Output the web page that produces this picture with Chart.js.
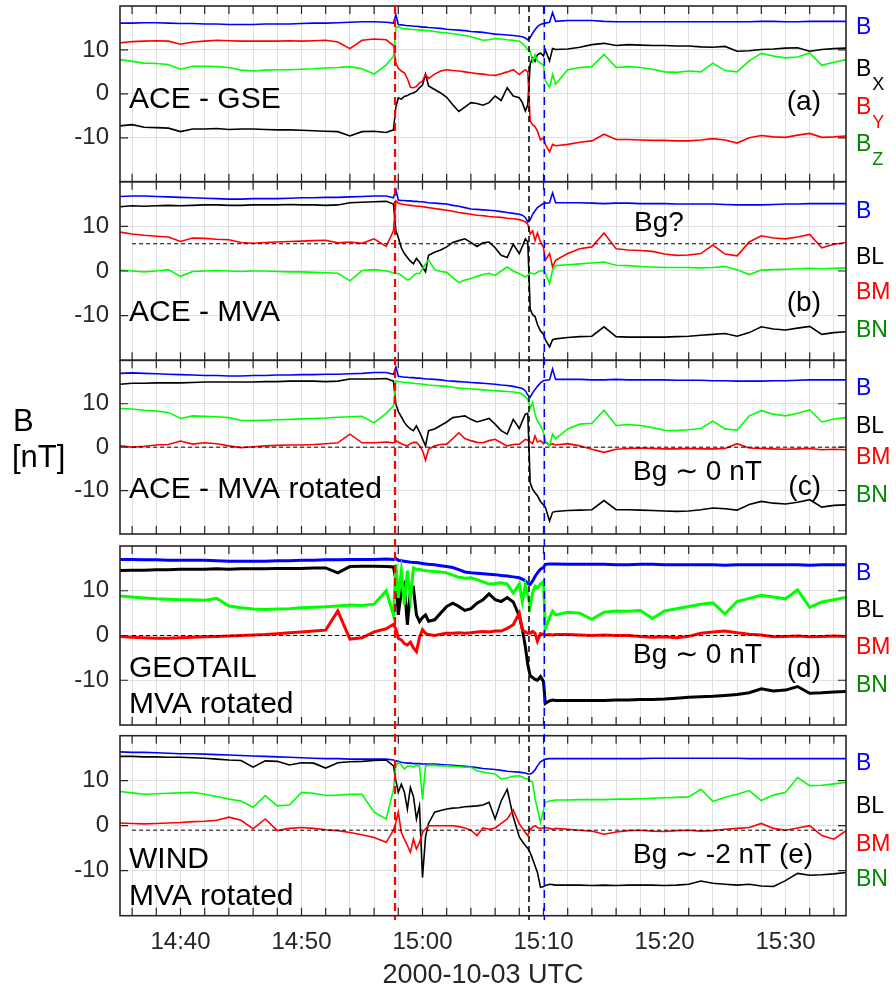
<!DOCTYPE html>
<html>
<head>
<meta charset="utf-8">
<script src="https://cdn.jsdelivr.net/npm/chart.js@4.4.1/dist/chart.umd.min.js"></script>
<style>
  html, body { margin: 0; padding: 0; background: #fff; }
  #wrap { position: relative; width: 896px; height: 994px; overflow: hidden; }
  #wrap canvas { position: absolute; left: 0; top: 0; }
</style>
</head>
<body>
<div id="wrap">
  <canvas id="pa" width="896" height="994"></canvas>
  <canvas id="pb" width="896" height="994"></canvas>
  <canvas id="pc" width="896" height="994"></canvas>
  <canvas id="pd" width="896" height="994"></canvas>
  <canvas id="pe" width="896" height="994"></canvas>
</div>
<script>
// time in minutes after 14:35 UTC (2000-10-03)
const T = [0,1,2,3,4,5,6,7,8,9,10,11,12,13,14,15,16,17,18,19,20,21,22,
  22.6,
  22.8,23,23.25,23.5,23.75,24,24.25,24.5,24.75,25,25.25,25.5,
  26,26.5,27,27.5,28,28.5,29,29.5,30,30.5,31,31.5,32,32.5,33,
  33.25,33.5,33.7,33.9,34.1,34.3,34.5,34.75,35,35.15,35.5,35.75,36,
  37,38,39,40,41,42,43,44,45,46,47,48,49,50,51,52,53,54,55,56,57,58,59,60];

// (a) ACE - GSE
const aB = [16.1,16.1,16.2,16.2,16.1,16.0,16.0,15.9,15.9,15.8,15.8,15.8,15.9,15.9,15.9,16.0,16.1,16.1,16.2,16.3,16.4,16.4,16.3,
  16.1,
  18.0,15.8,15.7,15.6,15.5,15.5,15.4,15.4,15.3,15.2,15.2,15.1,
  15.0,14.9,14.7,14.6,14.5,14.4,14.2,14.1,14.0,13.8,13.6,13.5,13.4,13.3,13.1,
  13.0,12.7,12.3,12.8,13.8,14.6,15.3,15.8,16.0,16.1,16.3,18.5,16.5,
  16.7,16.7,16.7,16.5,16.4,16.4,16.4,16.4,16.4,16.4,16.4,16.4,16.4,16.4,16.4,16.4,16.5,16.5,16.4,16.4,16.5,16.5,16.5,16.5];
const aBx = [-7.3,-7.0,-7.6,-7.7,-7.8,-8.6,-8.0,-8.0,-7.9,-8.1,-8.0,-8.0,-8.1,-8.2,-8.2,-8.3,-8.4,-8.5,-8.6,-9.6,-8.6,-8.5,-8.8,
  -8.2,
  -3.0,-0.9,-1.2,-0.6,-0.4,0.0,0.2,0.6,1.4,2.0,4.5,1.8,
  1.0,0.2,-0.8,-2.5,-4.0,-3.0,-2.0,-2.2,-2.6,-2.0,-0.5,-1.5,1.4,-0.5,-0.9,
  -2.0,-3.9,-2.5,6.8,8.2,7.4,8.9,9.3,8.6,10.0,7.5,10.3,10.1,
  10.2,10.6,11.2,11.5,11.0,11.2,11.1,11.0,11.0,10.9,10.9,10.7,10.6,10.8,9.7,9.8,10.1,10.2,10.4,10.5,9.7,10.1,10.3,10.4];
const aBy = [11.6,11.9,12.0,12.1,12.0,11.3,11.8,12.0,12.2,12.1,12.0,12.0,12.0,12.0,12.1,12.0,12.1,12.2,11.8,10.3,12.2,12.5,12.3,
  11.0,
  7.0,5.8,5.2,4.8,3.5,1.5,1.4,1.7,2.5,2.9,4.4,3.5,
  4.5,5.2,5.5,5.3,5.2,5.0,4.8,4.6,4.5,4.3,4.2,4.6,5.0,5.5,4.4,
  5.0,5.5,5.0,-6.2,-7.0,-7.5,-8.5,-10.5,-10.0,-11.5,-13.2,-11.5,-11.8,
  -11.5,-11.0,-10.7,-9.2,-10.4,-10.4,-10.5,-10.6,-10.6,-10.7,-10.7,-10.5,-10.2,-10.5,-11.2,-10.0,-9.5,-9.8,-9.9,-9.4,-9.0,-9.9,-9.8,-9.6];
const aBz = [7.8,7.4,7.0,6.9,6.7,5.6,6.3,6.3,6.2,6.0,5.4,5.2,5.4,5.5,5.5,5.6,5.7,5.9,6.0,6.2,5.7,4.5,6.6,
  8.5,
  15.0,15.3,15.0,14.8,14.8,14.7,14.6,14.6,14.5,14.5,14.4,14.4,
  14.2,14.0,13.9,13.7,13.5,13.3,13.0,12.6,12.2,12.3,12.6,12.5,12.3,12.2,12.0,
  11.5,10.8,10.0,9.7,7.4,8.9,7.5,7.0,6.5,3.0,1.5,4.4,2.2,
  5.5,6.0,6.2,9.0,6.0,6.2,6.0,5.6,5.0,4.9,5.2,5.0,7.0,5.3,5.0,7.5,9.2,8.6,8.2,8.4,9.3,6.5,7.2,7.8];

// (b) ACE - MVA
const bB = [16.7,16.8,16.8,16.7,16.6,16.5,16.4,16.3,16.2,16.1,16.1,16.2,16.2,16.2,16.3,16.4,16.4,16.5,16.5,16.6,16.7,16.8,16.8,
  16.4,
  18.2,15.9,15.8,15.8,15.7,15.7,15.6,15.6,15.5,15.5,15.4,15.3,
  15.2,15.1,15.0,14.7,14.5,14.2,13.9,13.8,13.7,13.6,13.5,13.3,13.1,12.9,12.7,
  12.5,12.0,11.0,11.5,12.7,13.5,14.2,14.7,15.1,15.2,15.3,17.5,15.3,
  15.3,15.3,15.2,15.1,15.2,15.2,15.1,15.1,15.1,15.0,15.0,15.0,15.0,14.9,14.8,14.8,14.8,14.9,15.0,15.0,15.1,15.1,15.1,15.1];
const bBL = [14.4,14.6,14.5,14.6,14.7,14.6,14.7,14.8,14.8,14.7,14.7,14.8,14.8,14.8,14.9,14.8,14.8,14.7,14.8,15.3,15.4,15.5,15.6,
  15.0,
  9.0,7.5,5.2,3.9,3.0,2.2,1.6,2.8,2.0,0.9,-0.2,3.5,
  4.2,4.7,5.4,6.4,6.8,7.2,6.4,5.5,6.3,6.5,5.2,3.5,3.0,6.0,3.9,
  5.5,7.2,6.5,-8.5,-9.8,-10.2,-12.0,-13.4,-14.2,-15.4,-17.0,-15.4,-15.2,
  -14.9,-14.7,-14.6,-12.5,-14.7,-14.8,-14.8,-14.8,-14.8,-14.7,-14.6,-14.4,-14.2,-14.0,-14.6,-13.8,-12.5,-13.0,-13.2,-12.8,-12.4,-14.2,-13.8,-13.6];
const bBM = [8.7,8.3,8.0,7.8,7.6,6.6,7.4,7.3,7.1,7.0,6.4,6.2,6.4,6.5,6.6,6.7,6.8,6.9,6.3,6.5,6.2,7.2,5.5,
  9.0,
  15.7,15.2,15.0,14.9,14.8,14.7,14.6,14.5,14.5,14.4,14.3,14.2,
  14.0,13.8,13.6,13.4,13.1,12.9,12.7,12.5,12.4,12.2,12.1,12.0,11.8,11.7,11.5,
  11.3,11.0,10.5,8.3,9.0,6.8,8.5,6.5,5.3,2.4,3.9,0.9,2.4,
  3.9,5.0,5.4,8.5,5.0,4.7,4.6,4.4,3.8,3.5,3.6,3.9,5.8,3.8,3.4,6.5,7.9,7.4,7.2,7.6,8.2,5.2,6.0,6.4];
const bBN = [0.2,0.0,-0.2,0.0,0.3,-1.2,-0.1,0.0,0.1,0.0,-0.1,0.0,0.0,-0.1,-0.2,-0.2,-0.3,-0.4,-0.5,-2.2,0.1,0.3,0.0,
  -0.4,
  -0.5,-0.6,-1.0,-1.5,-2.0,-1.8,-1.0,-0.5,-0.6,0.5,1.6,2.5,
  0.3,-0.1,-0.3,-1.5,-2.6,-2.0,-1.7,-1.2,-0.8,-0.5,-1.0,0.0,0.9,0.0,-0.6,
  -1.0,-1.3,-1.0,-0.4,-0.6,-0.6,-0.3,0.0,0.1,-0.5,-2.8,0.2,1.2,
  1.4,1.6,1.8,2.0,1.3,1.2,1.0,0.9,0.8,0.8,0.8,0.7,0.8,1.0,0.3,-0.8,0.2,0.3,0.4,0.5,0.6,0.5,0.6,0.7];

// (c) ACE - MVA rotated
const cB = [17.0,17.1,17.0,16.9,16.8,16.7,16.6,16.5,16.5,16.4,16.4,16.5,16.5,16.6,16.6,16.7,16.7,16.8,16.8,16.9,17.0,17.2,17.2,
  16.8,
  18.5,16.3,16.2,16.1,16.1,16.0,16.0,15.9,15.9,15.8,15.7,15.7,
  15.6,15.5,15.3,15.2,15.1,15.0,14.9,14.8,14.7,14.6,14.5,14.3,14.2,14.0,13.7,
  13.5,13.0,12.0,11.5,12.5,13.3,14.0,14.8,15.3,15.4,15.5,18.0,15.6,
  15.6,15.6,15.5,15.5,15.6,15.5,15.5,15.5,15.5,15.4,15.4,15.4,15.3,15.3,15.2,15.2,15.2,15.3,15.3,15.4,15.5,15.5,15.5,15.5];
const cBL = [14.5,14.7,14.7,14.8,14.8,14.8,14.9,15.0,15.0,15.0,15.0,15.0,15.1,15.1,15.2,15.2,15.2,15.1,15.2,15.7,15.7,15.7,15.8,
  15.2,
  9.9,8.2,7.0,5.7,4.8,4.2,3.8,4.9,3.5,1.9,0.3,3.8,
  4.2,5.0,5.8,6.8,7.0,7.2,6.4,5.8,6.2,6.6,5.3,3.8,3.0,6.4,4.3,
  6.0,7.6,7.8,-8.2,-9.7,-10.5,-11.2,-12.5,-13.3,-13.8,-17.0,-15.0,-14.8,
  -14.6,-14.5,-14.4,-12.3,-14.4,-14.4,-14.5,-14.6,-14.7,-14.8,-14.7,-14.4,-14.0,-14.2,-14.5,-13.2,-12.5,-12.9,-13.1,-12.7,-12.1,-13.8,-13.4,-13.3];
const cBM = [0.3,0.0,0.2,0.5,0.6,1.4,0.7,1.0,0.8,0.3,-0.1,0.1,0.3,0.4,0.5,0.5,0.6,0.8,1.0,3.0,1.0,1.0,1.2,
  1.0,
  1.5,1.2,0.8,0.5,0.3,0.8,1.1,1.1,0.3,-0.8,-3.0,-0.5,
  0.3,0.6,0.7,2.0,3.3,2.0,1.5,1.1,1.0,1.5,1.8,1.0,0.3,0.6,0.7,
  1.2,1.8,1.6,1.2,0.8,2.6,1.2,1.5,0.8,1.1,0.5,0.8,0.5,
  0.8,0.3,-0.5,-1.2,-0.5,-0.3,-0.2,-0.3,-0.4,-0.4,-0.3,-0.4,-0.4,-0.3,0.8,-0.2,-0.3,-0.4,-0.5,-0.4,-0.3,-0.6,-0.5,-0.6];
const cBN = [8.9,8.8,8.5,8.3,8.0,6.6,7.2,7.1,7.0,6.8,6.2,6.1,6.2,6.3,6.4,6.5,6.6,6.7,6.9,7.0,7.1,5.6,7.8,
  9.5,
  15.2,15.1,15.0,14.9,14.9,14.8,14.7,14.6,14.6,14.5,14.4,14.3,
  14.2,14.1,14.0,13.8,13.6,13.5,13.4,13.3,13.2,13.1,13.0,12.9,12.8,12.7,12.5,
  12.2,11.6,11.0,9.0,10.3,7.5,6.0,5.0,3.4,1.5,0.3,3.0,1.9,
  4.2,5.3,5.5,8.5,5.0,5.2,5.0,4.5,3.9,3.8,4.0,4.3,6.0,4.2,3.9,7.2,8.4,7.6,7.2,7.8,8.6,5.8,6.5,6.8];

// (d) GEOTAIL MVA rotated
const dB = [17.0,17.0,16.9,16.9,16.8,16.8,16.8,16.8,16.7,16.6,16.6,16.6,16.6,16.7,16.7,16.8,16.8,16.9,16.9,17.0,17.0,17.0,17.1,
  17.0,
  17.2,16.8,16.7,16.6,16.5,16.4,16.3,16.3,16.2,16.1,16.0,15.9,
  15.8,15.6,15.4,15.2,14.7,14.2,14.0,13.9,13.8,13.7,13.6,13.4,13.3,13.1,12.9,
  12.6,12.2,11.6,11.4,12.2,13.2,14.0,14.8,15.2,15.9,16.0,16.0,16.0,
  15.9,15.9,15.9,15.9,15.8,15.8,15.9,15.9,15.8,15.8,15.8,15.8,15.8,15.7,15.8,15.8,15.8,15.8,15.8,15.8,15.7,15.8,15.8,15.8];
const dBL = [14.5,14.6,14.6,14.7,14.7,14.8,14.8,14.8,14.9,14.8,14.9,14.9,14.9,15.0,15.0,15.0,15.1,15.1,14.0,15.4,15.5,15.5,15.4,
  15.3,
  12.5,4.6,9.9,11.4,2.4,10.0,10.6,4.6,3.1,4.0,4.6,3.2,
  3.5,5.0,6.5,7.2,6.5,5.6,6.0,7.2,8.0,9.3,8.0,7.6,8.5,7.5,4.3,
  1.5,-2.5,-6.5,-9.0,-9.4,-9.8,-10.0,-9.2,-10.3,-15.2,-14.6,-14.4,-14.5,
  -14.5,-14.5,-14.5,-14.5,-14.4,-14.4,-14.3,-14.3,-14.2,-14.0,-13.8,-13.7,-13.6,-13.4,-13.2,-12.8,-11.9,-12.4,-12.2,-11.4,-12.9,-12.8,-12.6,-12.5];
const dBM = [-0.2,-0.4,-0.5,-0.6,-0.6,-0.5,-0.4,-0.3,-0.2,-0.1,0.0,0.1,0.2,0.4,0.6,0.8,1.0,1.2,5.5,-0.8,-0.5,0.8,1.5,
  2.5,
  1.5,-0.6,-1.0,-1.8,-2.1,-1.5,-2.8,-3.6,-0.5,1.3,0.5,0.2,
  0.0,0.3,0.5,0.5,0.6,0.5,0.6,0.8,0.9,0.8,1.0,1.0,1.6,2.4,5.0,
  1.3,0.8,0.5,0.5,0.9,0.5,-1.3,0.4,0.3,0.1,0.2,0.1,0.2,
  0.2,0.1,0.0,0.1,0.0,0.0,-0.2,-0.4,-0.3,-0.5,-0.2,0.5,0.8,1.0,0.6,0.3,0.1,-0.3,-0.2,-0.1,-0.3,-0.2,-0.1,-0.2];
const dBN = [8.8,8.6,8.4,8.2,8.1,8.0,8.0,7.9,8.3,6.6,6.2,5.9,5.8,5.9,6.0,6.2,6.3,6.4,6.6,6.8,6.7,7.0,10.0,
  4.5,
  15.9,8.4,14.4,6.9,14.5,8.4,15.1,14.8,14.8,14.6,14.5,14.4,
  14.3,14.2,14.0,13.5,13.0,12.8,12.9,12.5,12.0,11.5,11.6,11.8,11.5,9.5,11.5,
  7.6,11.4,9.0,6.5,9.5,11.0,10.6,11.5,12.1,1.5,4.0,5.4,4.6,
  5.2,5.0,3.6,5.2,5.5,5.4,5.6,3.8,5.5,6.0,6.5,7.0,7.3,4.8,7.6,8.3,9.0,8.6,8.2,10.2,6.3,7.5,8.0,8.5];

// (e) WIND MVA rotated
const eB = [16.4,16.3,16.3,16.2,16.1,16.0,16.0,15.9,15.8,15.7,15.6,15.5,15.4,15.3,15.2,15.1,15.0,14.9,14.9,14.8,14.8,14.8,14.8,
  14.6,
  14.4,14.3,14.1,14.0,13.9,13.9,13.8,13.8,13.8,13.7,13.7,13.7,
  13.7,13.6,13.5,13.4,13.3,13.2,13.1,12.9,12.7,12.6,12.5,12.3,12.1,12.0,11.9,
  11.8,11.7,11.5,11.5,11.8,12.4,13.3,14.2,14.6,14.8,14.9,14.9,14.9,
  14.9,14.9,14.9,14.9,14.9,14.9,14.9,15.0,15.0,15.0,15.0,15.0,15.0,15.0,15.0,14.9,14.9,14.9,14.9,14.9,14.9,14.9,14.9,14.9];
const eBL = [15.4,15.4,15.3,15.3,15.2,15.2,15.1,15.0,14.8,14.6,14.5,13.0,14.4,14.3,13.5,14.0,13.9,12.8,14.0,14.2,14.3,14.5,14.6,
  13.3,
  10.0,7.4,9.2,7.5,3.7,8.5,6.5,1.5,4.4,-11.5,-2.5,0.5,
  3.0,3.4,3.7,3.9,4.0,4.2,4.3,4.4,4.6,5.2,1.5,5.5,8.1,2.0,-2.5,
  -3.5,-4.4,-5.0,-6.0,-7.4,-8.9,-10.4,-13.7,-13.5,-13.3,-13.0,-13.1,-13.2,
  -13.2,-13.2,-13.3,-13.2,-13.3,-13.2,-13.2,-13.2,-13.3,-13.2,-13.0,-12.3,-12.8,-13.0,-13.2,-13.0,-13.4,-13.5,-12.2,-10.6,-11.0,-10.9,-10.7,-10.4];
const eBM = [0.6,0.5,0.4,0.5,0.6,0.7,0.9,1.0,1.2,1.9,1.2,-0.7,1.5,-1.1,-0.6,-0.4,-0.6,-0.9,-1.1,-1.5,-2.0,-2.6,-3.7,
  -1.0,
  0.7,3.0,-1.5,-3.0,-4.4,-5.9,-3.0,-5.2,-3.7,-1.5,-0.7,0.0,
  0.0,0.0,0.0,0.0,-0.2,-0.5,-1.0,-2.2,-0.5,-0.8,-0.5,0.5,1.5,3.5,0.4,
  -0.5,-1.5,-2.2,-0.8,-0.3,0.0,-0.4,-0.6,-0.5,-0.4,-0.6,-0.8,-0.6,
  -0.8,-1.0,-1.2,-1.9,-1.4,-1.1,-1.0,-1.2,-1.3,-1.1,-1.0,-1.2,-1.1,-0.8,-0.6,-0.4,0.5,-0.6,-1.0,-0.5,0.0,-2.2,-3.0,-1.1];
const eBN = [7.6,7.3,7.0,7.1,7.2,7.3,7.4,7.0,6.5,5.9,5.5,4.1,6.7,4.4,4.6,7.4,7.2,6.7,6.8,7.0,7.0,3.0,1.5,
  8.0,
  13.3,14.1,13.5,12.6,13.2,13.3,13.0,13.4,13.3,5.9,13.3,13.4,
  13.4,13.3,13.3,13.2,13.1,13.0,13.0,12.2,11.9,11.7,11.5,10.4,10.6,11.0,11.1,
  10.8,10.5,10.4,10.0,9.6,6.0,3.7,0.7,3.5,5.2,5.5,5.6,5.7,
  5.7,5.8,5.8,5.8,5.9,5.9,6.0,6.1,6.2,6.3,6.4,8.1,5.4,6.3,7.0,7.8,5.6,6.8,7.4,10.7,8.9,9.0,9.3,9.6];

// axis ticks, reference levels and event times
const xGridTicks = [1,3,5,7,9,11,13,15,17,19,21,23,25,27,29,31,33,35,37,39,41,43,45,47,49,51,53,55,57,59];
const xLabelTicks = [5,15,25,35,45,55];
const xLabels = ['14:40','14:50','15:00','15:10','15:20','15:30'];
const yTicks = [-10,0,10];
const bgLevels = [null, 6.1, 0, 0, -1];
const bgStart = 1;
const eventTimes = [22.73, 33.8, 35.07];

const FONT = "'Liberation Sans', Arial, Helvetica, sans-serif";
const BLUE = '#0000ff', RED = '#ff0000', GREEN = '#00ff00', BLACK = '#000000', DKGREEN = '#008a00';
const GRID = '#e0e0e0', AXIS = '#262626';

const panels = [
  { id: 'pa', top: 6, bottom: 181.7, lw: 1.6, series: [aB, aBx, aBy, aBz], bg: bgLevels[0],
    side: [{t: 'B', c: BLUE, y: 28}, {t: 'B', sub: 'X', c: BLACK, y: 70}, {t: 'B', sub: 'Y', c: RED, y: 108}, {t: 'B', sub: 'Z', c: DKGREEN, y: 145}],
    notes: [{t: 'ACE - GSE', x: 129, y: 108, size: 30}, {t: '(a)', x: 821, y: 110, align: 'right'}] },
  { id: 'pb', top: 181.7, bottom: 360.3, lw: 1.6, series: [bB, bBL, bBM, bBN], bg: bgLevels[1],
    side: [{t: 'B', c: BLUE, y: 212}, {t: 'BL', c: BLACK, y: 258}, {t: 'BM', c: RED, y: 293}, {t: 'BN', c: DKGREEN, y: 331}],
    notes: [{t: 'ACE - MVA', x: 129, y: 321, size: 30}, {t: 'Bg?', x: 634, y: 231}, {t: '(b)', x: 821, y: 311, align: 'right'}] },
  { id: 'pc', top: 360.3, bottom: 534, lw: 1.6, series: [cB, cBL, cBM, cBN], bg: bgLevels[2],
    side: [{t: 'B', c: BLUE, y: 389}, {t: 'BL', c: BLACK, y: 427}, {t: 'BM', c: RED, y: 458}, {t: 'BN', c: DKGREEN, y: 496}],
    notes: [{t: 'ACE - MVA rotated', x: 129, y: 498, size: 30}, {t: 'Bg \u223C 0 nT', x: 633, y: 480}, {t: '(c)', x: 821, y: 495, align: 'right'},
            {t: 'B', x: 13, y: 431, size: 31}, {t: '[nT]', x: 12, y: 467, size: 31}] },
  { id: 'pd', top: 546, bottom: 725, lw: 3, series: [dB, dBL, dBM, dBN], bg: bgLevels[3],
    side: [{t: 'B', c: BLUE, y: 574}, {t: 'BL', c: BLACK, y: 611}, {t: 'BM', c: RED, y: 648}, {t: 'BN', c: DKGREEN, y: 686}],
    notes: [{t: 'GEOTAIL', x: 129, y: 677, size: 30}, {t: 'MVA rotated', x: 129, y: 713, size: 30}, {t: 'Bg \u223C 0 nT', x: 633, y: 663}, {t: '(d)', x: 821, y: 677, align: 'right'}] },
  { id: 'pe', top: 735.7, bottom: 915.7, lw: 1.6, series: [eB, eBL, eBM, eBN], bg: bgLevels[4],
    side: [{t: 'B', c: BLUE, y: 764}, {t: 'BL', c: BLACK, y: 807}, {t: 'BM', c: RED, y: 845}, {t: 'BN', c: DKGREEN, y: 880}],
    notes: [{t: 'WIND', x: 129, y: 868, size: 30}, {t: 'MVA rotated', x: 129, y: 905, size: 30}, {t: 'Bg \u223C -2 nT (e)', x: 633, y: 863}] }
];

panels.forEach(p => p.series.forEach((s, i) => {
  if (s.length !== T.length) throw new Error(p.id + ' series ' + i + ' has ' + s.length + ' values, expected ' + T.length);
}));

function makeDeco(p) {
  return {
    id: 'deco',
    afterDraw(chart) {
      const {ctx, chartArea: a} = chart;
      const xs = chart.scales.x, ys = chart.scales.y;
      ctx.save();
      // inward tick marks on all four sides
      ctx.strokeStyle = AXIS;
      ctx.lineWidth = 1.2;
      ctx.beginPath();
      xs.ticks.forEach(t => {
        const px = xs.getPixelForValue(t.value);
        ctx.moveTo(px, a.top); ctx.lineTo(px, a.top + 8);
        ctx.moveTo(px, a.bottom); ctx.lineTo(px, a.bottom - 8);
      });
      ys.ticks.forEach(t => {
        const py = ys.getPixelForValue(t.value);
        ctx.moveTo(a.left, py); ctx.lineTo(a.left + 8, py);
        ctx.moveTo(a.right, py); ctx.lineTo(a.right - 8, py);
      });
      ctx.stroke();
      ctx.lineWidth = 1.6;
      ctx.strokeRect(a.left, a.top, a.right - a.left, a.bottom - a.top);

      // component labels on the right
      ctx.textAlign = 'left';
      ctx.textBaseline = 'middle';
      p.side.forEach(s => {
        ctx.fillStyle = s.c;
        ctx.font = '23px ' + FONT;
        ctx.fillText(s.t, 856, s.y);
        if (s.sub) {
          const w = ctx.measureText(s.t).width;
          ctx.font = '18px ' + FONT;
          ctx.fillText(s.sub, 856 + w + 1, s.y + 15);
        }
      });

      // panel texts
      ctx.textBaseline = 'alphabetic';
      ctx.fillStyle = '#000';
      p.notes.forEach(n => {
        ctx.font = (n.size || 28) + 'px ' + FONT;
        ctx.textAlign = n.align || 'left';
        ctx.fillText(n.t, n.x, n.y);
      });
      ctx.restore();
    }
  };
}

// dashed event lines through all panels
const eventLines = {
  id: 'eventLines',
  afterDraw(chart) {
    const {ctx} = chart;
    const xs = chart.scales.x;
    const styles = [
      {c: RED, w: 2.2, dash: [8, 5]},
      {c: BLACK, w: 1.5, dash: [6, 4]},
      {c: BLUE, w: 1.5, dash: [8, 5]}
    ];
    eventTimes.forEach((t, i) => {
      const px = xs.getPixelForValue(t);
      ctx.save();
      ctx.strokeStyle = styles[i].c;
      ctx.lineWidth = styles[i].w;
      ctx.setLineDash(styles[i].dash);
      ctx.beginPath();
      ctx.moveTo(px, 6);
      ctx.lineTo(px, 920);
      ctx.stroke();
      ctx.restore();
    });
  }
};

function buildPanel(p, isLast) {
  const colors = [BLUE, BLACK, RED, GREEN];
  const datasets = p.series.map((vals, i) => ({
    data: T.map((t, k) => ({x: t, y: vals[k]})),
    borderColor: colors[i],
    borderWidth: p.lw,
    pointRadius: 0,
    tension: 0,
    order: 4 - i
  }));
  if (p.bg !== null) {
    datasets.push({
      data: [{x: bgStart, y: p.bg}, {x: 60, y: p.bg}],
      borderColor: '#000',
      borderWidth: 1,
      borderDash: [4, 3],
      pointRadius: 0,
      order: 0
    });
  }

  return new Chart(document.getElementById(p.id), {
    type: 'line',
    data: { datasets },
    options: {
      responsive: false,
      animation: false,
      devicePixelRatio: 1,
      events: [],
      layout: { padding: { left: 0, right: 50, top: p.top, bottom: isLast ? 0 : 994 - p.bottom } },
      plugins: { legend: { display: false }, tooltip: { enabled: false } },
      scales: {
        x: {
          type: 'linear',
          min: 0,
          max: 60,
          afterBuildTicks: s => { s.ticks = xGridTicks.map(v => ({value: v})); },
          afterFit: s => { s.height = isLast ? 78.3 : 0; s.paddingLeft = 0; s.paddingRight = 0; },
          grid: { color: GRID, lineWidth: 1, drawTicks: false },
          border: { display: false },
          ticks: {
            display: isLast,
            autoSkip: false,
            maxRotation: 0,
            padding: 12,
            color: AXIS,
            font: { family: FONT, size: 24, lineHeight: 1.2 },
            callback: v => {
              const i = xLabelTicks.indexOf(v);
              return i >= 0 ? xLabels[i] : '';
            }
          },
          title: {
            display: isLast,
            text: '2000-10-03 UTC',
            color: AXIS,
            font: { family: FONT, size: 27, lineHeight: 1.2 },
            padding: { top: 0, bottom: 1.8 }
          }
        },
        y: {
          min: -20,
          max: 20,
          afterBuildTicks: s => { s.ticks = yTicks.map(v => ({value: v})); },
          afterFit: s => { s.width = 120; s.paddingTop = 0; s.paddingBottom = 0; },
          grid: { color: GRID, lineWidth: 1, drawTicks: false },
          border: { display: false },
          ticks: {
            padding: 11,
            color: AXIS,
            font: { family: FONT, size: 24 },
            callback: v => String(v)
          }
        }
      }
    },
    plugins: isLast ? [makeDeco(p), eventLines] : [makeDeco(p)]
  });
}

panels.forEach((p, i) => buildPanel(p, i === panels.length - 1));
</script>
</body>
</html>
